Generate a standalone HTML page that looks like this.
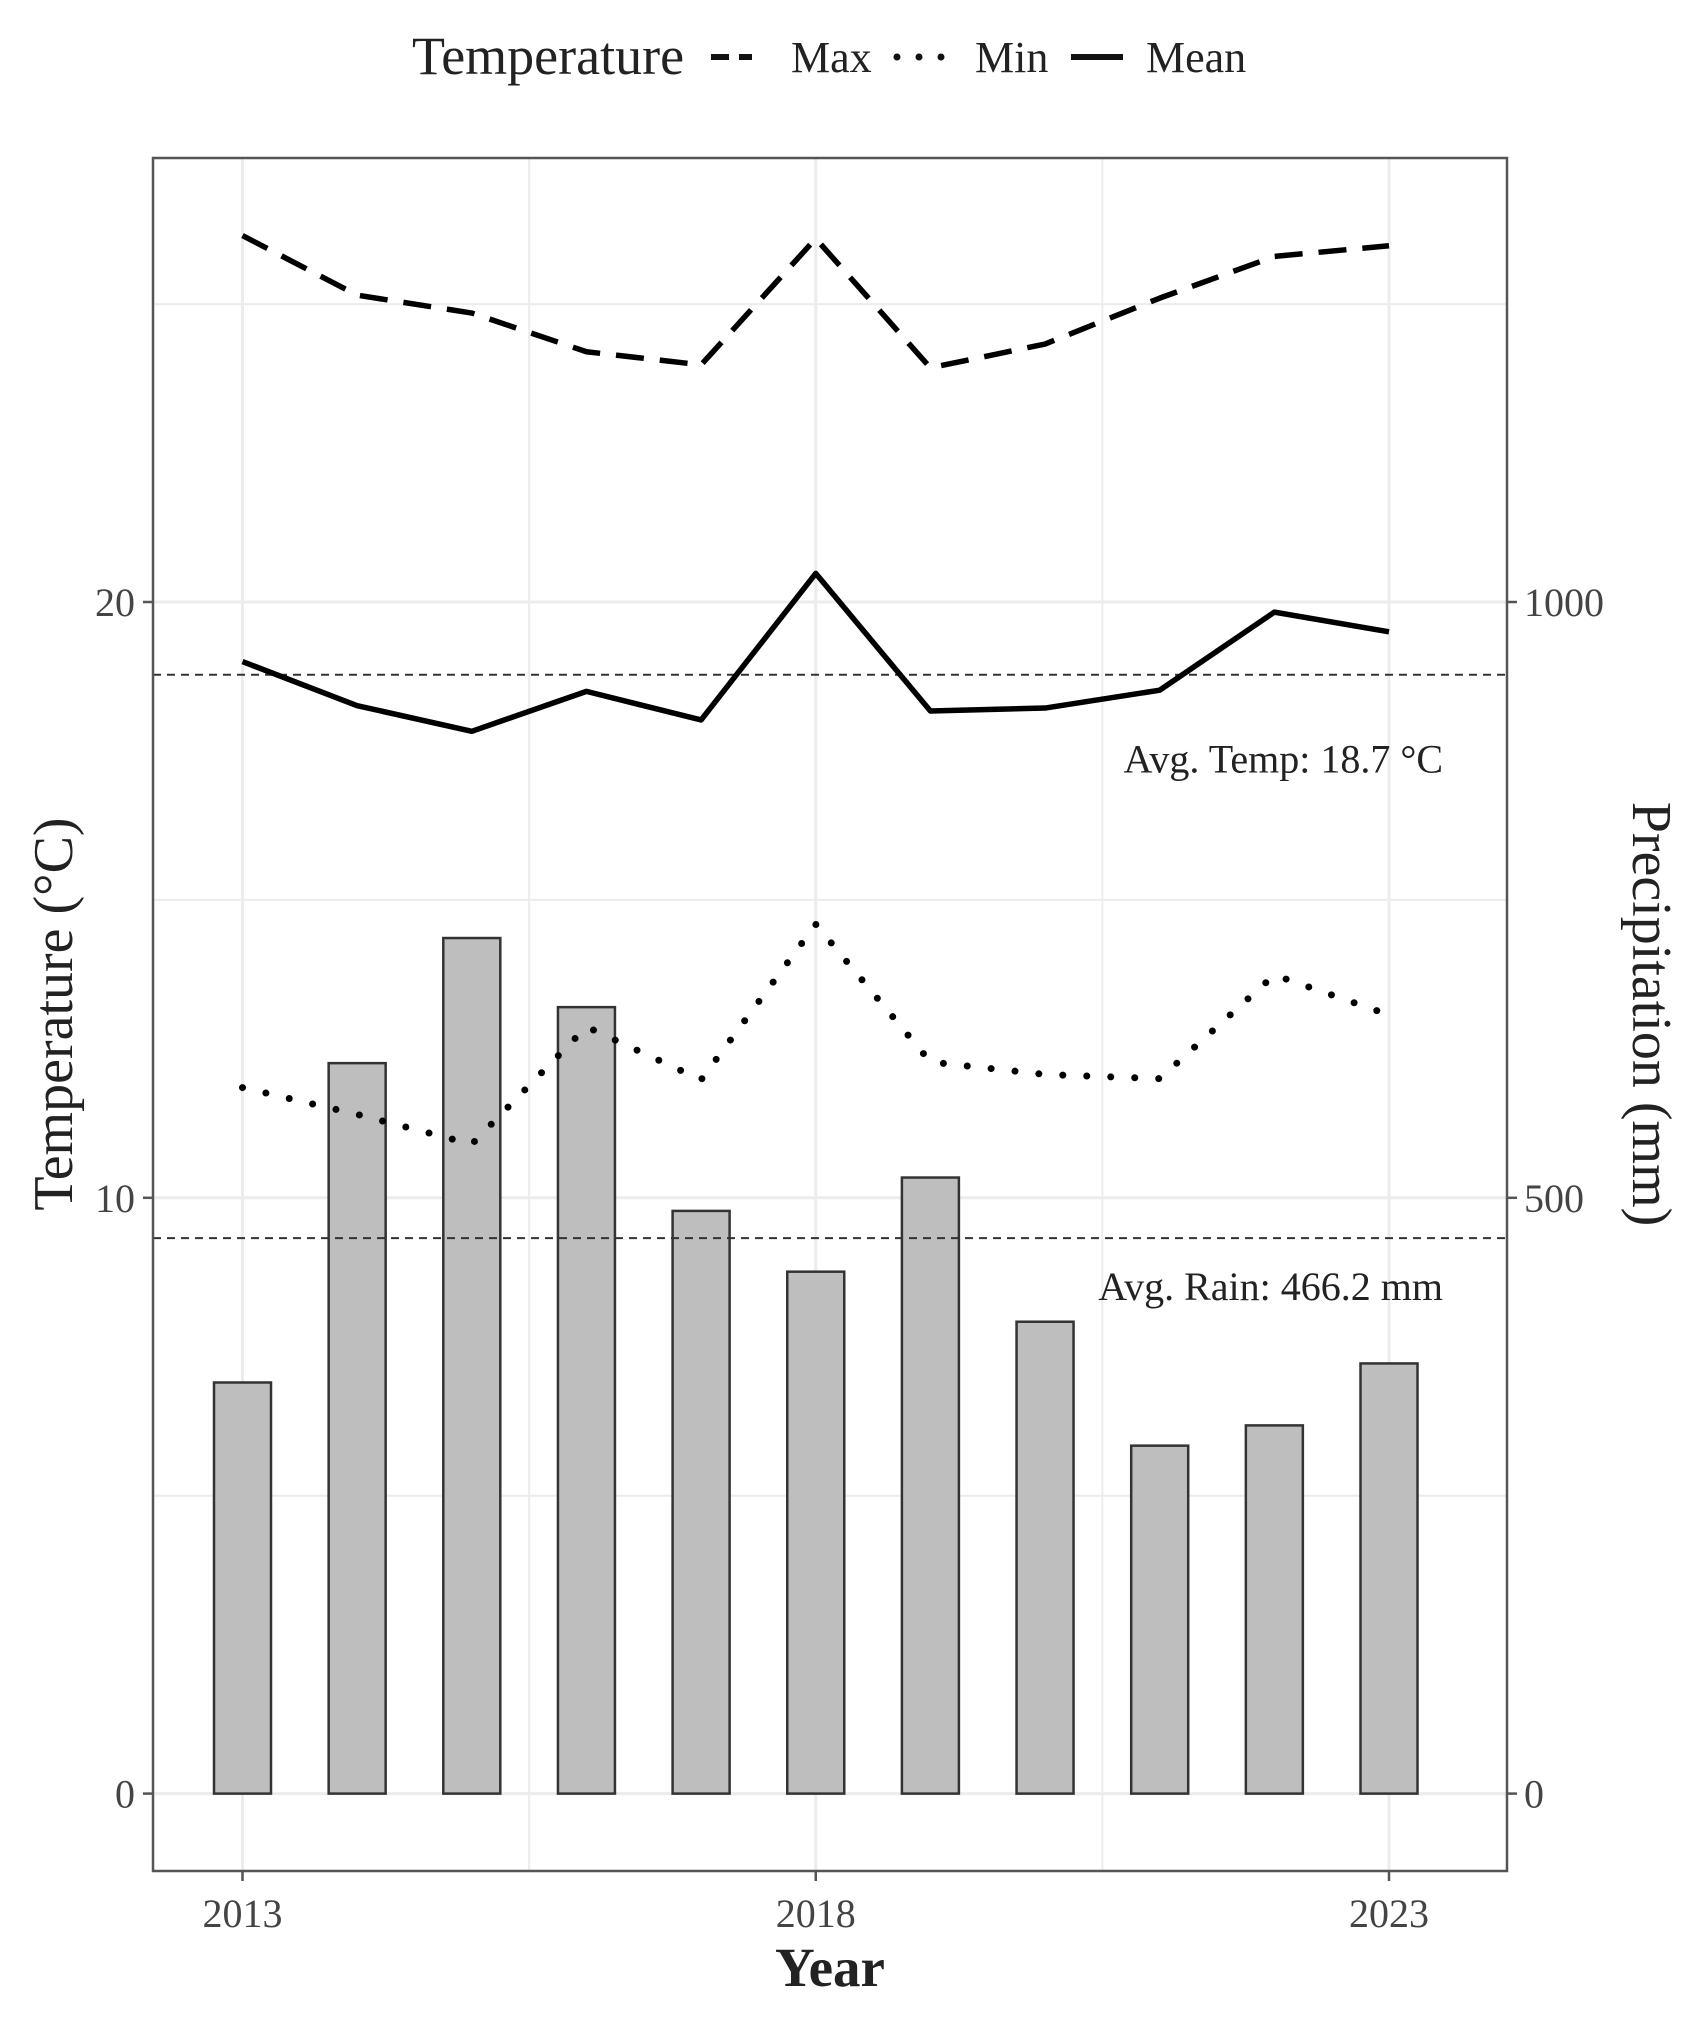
<!DOCTYPE html>
<html><head><meta charset="utf-8"><style>
html,body{margin:0;padding:0;background:#fff;}
svg{display:block;font-family:"Liberation Serif",serif;}
</style></head><body>
<svg id="chart" width="1707" height="2029" viewBox="0 0 1707 2029" xmlns="http://www.w3.org/2000/svg">
<g id="legend">
<text x="412" y="74" font-size="54" fill="#222">Temperature</text>
<line x1="711" y1="57" x2="752" y2="57" stroke="#111" stroke-width="6" stroke-dasharray="18,10"/>
<text x="791" y="72" font-size="44" fill="#222">Max</text>
<line x1="897" y1="57" x2="947" y2="57" stroke="#111" stroke-width="7" stroke-dasharray="0,22" stroke-linecap="round"/>
<text x="975" y="72" font-size="44" fill="#222">Min</text>
<line x1="1071" y1="57" x2="1123" y2="57" stroke="#111" stroke-width="6"/>
<text x="1146" y="72" font-size="44" fill="#222">Mean</text>
</g>
<g id="grid"></g>
<g id="bars"></g>
<g id="refs"></g>
<g id="lines"></g>
<rect x="153" y="158" width="1354" height="1713" fill="none" stroke="#555" stroke-width="2.5"/>
<g id="axes"></g>
<text x="830" y="1986" font-size="55" font-weight="bold" text-anchor="middle" fill="#222">Year</text>
<text transform="translate(72,1014) rotate(-90)" font-size="56" text-anchor="middle" fill="#222">Temperature (°C)</text>
<text transform="translate(1633,1014) rotate(90)" font-size="56" text-anchor="middle" fill="#222">Precipitation (mm)</text>
</svg>
<script>
const years = [2013,2014,2015,2016,2017,2018,2019,2020,2021,2022,2023];
const precip = [345,613,718,660,489,438,517,396,292,309,361];
const tMax = [26.15,25.15,24.85,24.2,23.98,26.1,23.93,24.33,25.1,25.8,25.98];
const tMean = [19.0,18.26,17.83,18.5,18.02,20.48,18.17,18.22,18.52,19.83,19.5];
const tMin = [11.85,11.4,10.9,12.87,11.98,14.59,12.28,12.07,12.0,13.74,13.07];
const avgTemp = 18.78;
const avgRain = 466.2;
const xTicks = [2013,2018,2023];
const tempTicks = [0,10,20];
const precipTicks = [0,500,1000];

const NS="http://www.w3.org/2000/svg";
const xS = y => 242.5 + (y-2013)*114.65;
const yT = t => 1793.6 - t*59.58;
const yP = p => yT(p/50);
const L=153, R=1507, T=158, B=1871;
function mk(tag, attrs, parent){const e=document.createElementNS(NS,tag);for(const k in attrs)e.setAttribute(k,attrs[k]);parent.appendChild(e);return e;}
const grid=document.getElementById('grid');
[0,5,10,15,20,25].forEach(t=>{
  const e=mk('line',{x1:L,x2:R,y1:yT(t),y2:yT(t),stroke:'#ececec','stroke-width':t%10===0?3:2},grid);
  
  
});
[2013,2015.5,2018,2020.5,2023].forEach(x=>{
  const e=mk('line',{x1:xS(x),x2:xS(x),y1:T,y2:B,stroke:'#ececec','stroke-width':Number.isInteger(x)?3:2},grid);
  
  
});
const bars=document.getElementById('bars');
years.forEach((y,i)=>{
  const w=57;
  const e=mk('rect',{x:xS(y)-w/2,y:yP(precip[i]),width:w,height:yP(0)-yP(precip[i]),fill:'#bebebe',stroke:'#333','stroke-width':2.5},bars);
  
  
});
const refs=document.getElementById('refs');
let r1=mk('line',{x1:L,x2:R,y1:yT(avgTemp),y2:yT(avgTemp),stroke:'#333','stroke-width':2,'stroke-dasharray':'8,6'},refs);


let r2=mk('line',{x1:L,x2:R,y1:yP(avgRain),y2:yP(avgRain),stroke:'#333','stroke-width':2,'stroke-dasharray':'8,6'},refs);


let a1=mk('text',{x:1443,y:yT(avgTemp)+98,'font-size':40,'text-anchor':'end',fill:'#222'},refs);
a1.textContent='Avg. Temp: 18.7 °C';


let a2=mk('text',{x:1443,y:yP(avgRain)+62,'font-size':40,'text-anchor':'end',fill:'#222'},refs);
a2.textContent='Avg. Rain: '+avgRain.toFixed(1)+' mm';


const lines=document.getElementById('lines');
function series(vals,name,dash,cap){
  const pts=years.map((y,i)=>xS(y)+','+yT(vals[i])).join(' ');
  const e=mk('polyline',{points:pts,fill:'none',stroke:'#000','stroke-width':cap?7:5.5,'stroke-dasharray':dash,'stroke-linecap':cap?'round':'butt','stroke-linejoin':'round'},lines);
  
  
}
series(tMax,'line-max','28,16',false);
series(tMin,'line-min','0,24',true);
series(tMean,'line-mean','none',false);
const axes=document.getElementById('axes');
xTicks.forEach(y=>{
  const tk=mk('line',{x1:xS(y),x2:xS(y),y1:B,y2:B+10,stroke:'#555','stroke-width':2.5},axes);
  
  
  const t=mk('text',{x:xS(y),y:B+56,'font-size':40,'text-anchor':'middle',fill:'#444'},axes);
  t.textContent=y;
  
  
});
tempTicks.forEach(v=>{
  const tk=mk('line',{x1:L-10,x2:L,y1:yT(v),y2:yT(v),stroke:'#555','stroke-width':2.5},axes);
  
  
  const t=mk('text',{x:L-18,y:yT(v)+14,'font-size':40,'text-anchor':'end',fill:'#444'},axes);
  t.textContent=v;
  
  
});
precipTicks.forEach(v=>{
  const tk=mk('line',{x1:R,x2:R+10,y1:yP(v),y2:yP(v),stroke:'#555','stroke-width':2.5},axes);
  
  
  const t=mk('text',{x:R+17,y:yP(v)+14,'font-size':40,'text-anchor':'start',fill:'#444'},axes);
  t.textContent=v;
  
  
});
</script>
</body></html>
